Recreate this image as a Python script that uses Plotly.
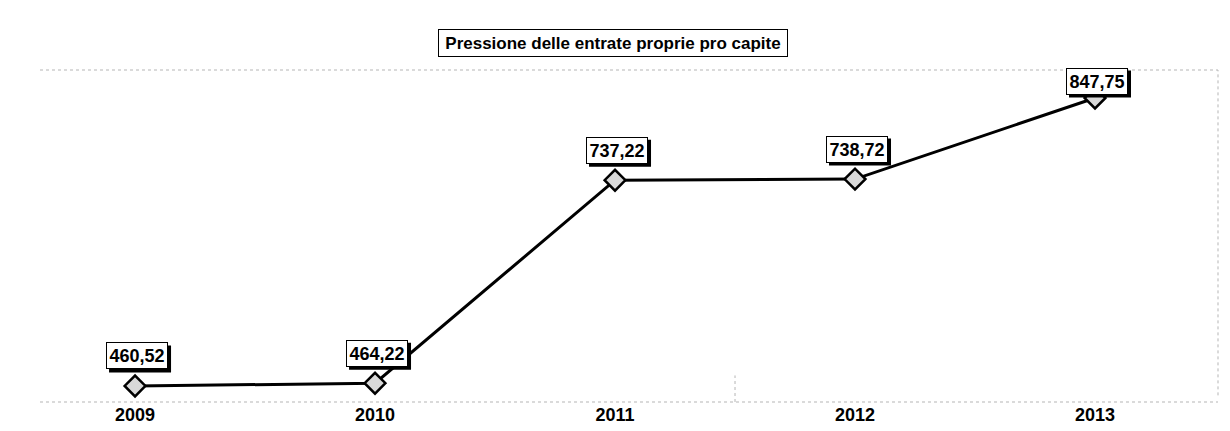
import plotly.graph_objects as go

years = [2009, 2010, 2011, 2012, 2013]
values = [460.52, 464.22, 737.22, 738.72, 847.75]
labels = ["460,52", "464,22", "737,22", "738,72", "847,75"]
tick_labels = ["2009", "2010", "2011", "2012", "2013"]
title_text = "Pressione delle entrate proprie pro capite"

FONT = "Liberation Sans, Arial, sans-serif"
SH = 3  # shadow offset in px


def boxed(fig, text, size, w, h, dx, dy, x, y, xref, yref):
    """White boxed label with a black drop shadow (bottom right)."""
    bw = w + 2 * 2 + 2  # text width + pad + border
    bh = h + 2 * 2 + 2
    fig.add_shape(type="rect", xref=xref, yref=yref,
                  xsizemode="pixel", ysizemode="pixel", xanchor=x, yanchor=y,
                  x0=dx + SH - bw / 2, x1=dx + SH + bw / 2,
                  y0=dy - SH - bh / 2, y1=dy - SH + bh / 2,
                  fillcolor="black", line=dict(width=0), layer="above")
    fig.add_annotation(x=x, y=y, xref=xref, yref=yref, text="<b>%s</b>" % text,
                       showarrow=False, width=w, height=h, borderpad=2,
                       borderwidth=1, bordercolor="black", bgcolor="white",
                       xshift=dx, yshift=dy, align="center", valign="middle",
                       font=dict(family=FONT, size=size, color="black"))


fig = go.Figure()
fig.add_trace(go.Scatter(
    x=years, y=values, mode="lines+markers",
    line=dict(color="black", width=3),
    marker=dict(symbol="diamond", size=16, color="#d9d9d9",
                line=dict(color="black", width=2.5)),
    hoverinfo="skip", showlegend=False,
))

for yr, v, lab in zip(years, values, labels):
    dy = 17 if yr == 2013 else 30
    boxed(fig, lab, 18, 56, 21, 2, dy, yr, v, "x", "y")

# title box, placed relative to the top of the plot area
boxed(fig, title_text, 17, 344, 22, 0, 27, 2010.99, 885.4, "x", "y")

# faint dotted frame lines of the original scan
dot = dict(color="#b5b5b5", width=1, dash="dot")
fig.add_shape(type="line", xref="paper", yref="paper", x0=0, x1=1, y0=1, y1=1, line=dot, layer="below")
fig.add_shape(type="line", xref="paper", yref="paper", x0=0, x1=1, y0=0, y1=0, line=dot, layer="below")
fig.add_shape(type="line", xref="paper", yref="paper", x0=1, x1=1, y0=0.02, y1=1, line=dot, layer="below")
fig.add_shape(type="line", xref="x", yref="paper", x0=2011.5, x1=2011.5, y0=0, y1=0.08, line=dot, layer="below")

fig.update_xaxes(range=[2008.604, 2013.5125], tickvals=years,
                 ticktext=["<b>%s</b>" % t for t in tick_labels],
                 showgrid=False, zeroline=False, showline=False, ticks="",
                 automargin=False,
                 tickfont=dict(family=FONT, size=18, color="black"))
fig.update_yaxes(range=[439.0, 885.4], showgrid=False, zeroline=False,
                 showline=False, showticklabels=False, ticks="",
                 automargin=False)

# the page body adds an 8px margin, so the figure is 8px smaller each way
fig.update_layout(
    width=1222, height=423,
    margin=dict(l=32, r=12, t=62, b=29),
    paper_bgcolor="white", plot_bgcolor="white",
)

fig.write_html("out.html")
